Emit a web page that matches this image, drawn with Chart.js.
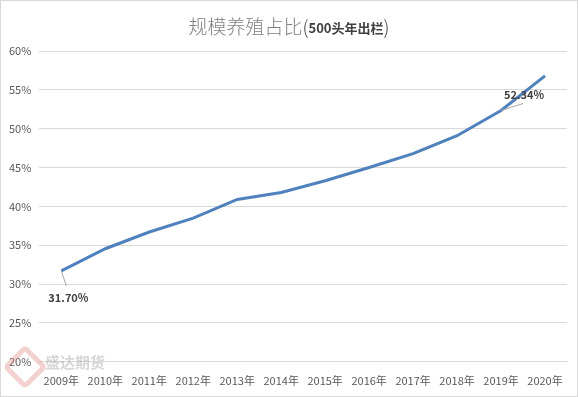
<!DOCTYPE html>
<html>
<head>
<meta charset="utf-8">
<script src="https://cdn.jsdelivr.net/npm/chart.js@4"></script>
<style>
  html, body { margin: 0; padding: 0; background: #fff; }
  #wrap { position: relative; width: 578px; height: 397px; box-sizing: border-box; border: 1px solid #d9d9d9; }
  canvas { position: absolute; left: 0; top: 0; }
  #mark { position: absolute; left: 6px; top: 346px; pointer-events: none; opacity: 0.35; }
  #mark .logo { position: absolute; left: 2px; top: 4px; width: 22px; height: 22px; border: 5px solid #e07a7a; border-radius: 5px; transform: rotate(45deg); }
  #mark .txt { position: absolute; left: 38px; top: 4px; font: bold 15px "Noto Sans CJK SC"; color: #8c8c8c; white-space: nowrap; }
</style>
</head>
<body>
<div id="wrap">
  <canvas id="c" width="576" height="395"></canvas>
  <div id="mark"><div class="logo"></div><div class="txt">盛达期货</div></div>
</div>
<script>
const years = ["2009年", "2010年", "2011年", "2012年", "2013年", "2014年", "2015年", "2016年", "2017年", "2018年", "2019年", "2020年"];
const share = [31.70, 34.55, 36.7, 38.5, 40.9, 41.8, 43.3, 45.0, 46.8, 49.1, 52.34, 56.8];
const yTicks = [20, 25, 30, 35, 40, 45, 50, 55, 60];
const labelled = [0, 10];

const titleMain = "规模养殖占比";
const titleSub = "500头年出栏";

const titlePlugin = {
  id: "mixedTitle",
  afterDraw(chart) {
    const ctx = chart.ctx;
    const big = '300 19px "Noto Sans CJK SC"';
    const small = 'bold 13px "Noto Sans CJK SC"';
    ctx.save();
    ctx.textBaseline = "middle";
    ctx.font = big;
    const w1 = ctx.measureText(titleMain + "(").width;
    const wp = ctx.measureText(")").width;
    ctx.font = small;
    const w2 = ctx.measureText(titleSub).width;
    let x = chart.width / 2 - (w1 + w2 + wp) / 2;
    const y = 26;
    ctx.font = big;
    ctx.fillStyle = "#7f7f7f";
    ctx.fillText(titleMain, x, y);
    x += ctx.measureText(titleMain).width;
    ctx.fillStyle = "#404040";
    ctx.fillText("(", x, y);
    x += ctx.measureText("(").width;
    ctx.font = small;
    ctx.fillText(titleSub, x, y + 1);
    x += w2;
    ctx.font = big;
    ctx.fillText(")", x, y);
    ctx.restore();
  }
};

const labelPlugin = {
  id: "pointLabels",
  afterDatasetsDraw(chart) {
    const ctx = chart.ctx;
    const pts = chart.getDatasetMeta(0).data;
    ctx.save();
    ctx.font = 'bold 11px "Noto Sans CJK SC"';
    ctx.fillStyle = "#404040";
    ctx.strokeStyle = "#a6a6a6";
    ctx.lineWidth = 1;
    labelled.forEach((i) => {
      const p = pts[i];
      const txt = share[i].toFixed(2) + "%";
      let ex, ey, tx, ty;
      if (i === 0) {
        ex = p.x + 5; ey = p.y + 15; tx = p.x - 13; ty = p.y + 27;
      } else {
        ex = p.x + 22; ey = p.y - 7; tx = p.x + 3; ty = p.y - 16;
      }
      ctx.beginPath();
      ctx.moveTo(p.x, p.y);
      ctx.lineTo(ex, ey);
      ctx.stroke();
      ctx.textBaseline = "middle";
      ctx.fillText(txt, tx, ty);
    });
    ctx.restore();
  }
};

new Chart(document.getElementById("c"), {
  type: "line",
  data: {
    labels: years,
    datasets: [{
      data: share,
      borderColor: "#4f81bd",
      borderWidth: 3,
      pointRadius: 0,
      tension: 0,
      fill: false
    }]
  },
  options: {
    responsive: false,
    animation: false,
    layout: { padding: { top: 50, left: 0, right: 10, bottom: -3 } },
    plugins: { legend: { display: false }, tooltip: { enabled: false } },
    scales: {
      x: {
        offset: true,
        grid: { display: false, drawTicks: false },
        border: { color: "#d9d9d9" },
        ticks: { color: "#595959", font: { family: "Noto Sans CJK SC", size: 11 }, padding: 12, maxRotation: 0, autoSkip: false }
      },
      y: {
        min: yTicks[0],
        max: yTicks[yTicks.length - 1],
        afterBuildTicks(axis) { axis.ticks = yTicks.map((v) => ({ value: v })); },
        grid: { color: "#d9d9d9", drawTicks: false },
        border: { display: false },
        ticks: { color: "#595959", font: { family: "Noto Sans CJK SC", size: 11 }, padding: 8, callback: (v) => v + "%" }
      }
    }
  },
  plugins: [titlePlugin, labelPlugin]
});
</script>
</body>
</html>
